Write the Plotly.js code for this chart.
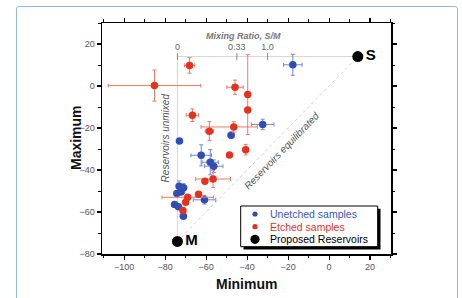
<!DOCTYPE html>
<html>
<head>
<meta charset="utf-8">
<script src="https://cdn.plot.ly/plotly-3.0.1.min.js"></script>
<style>
html,body{margin:0;padding:0;background:#ffffff;}
#wrap{position:relative;width:462px;height:298px;overflow:hidden;}
#frame{position:absolute;left:16px;top:6px;width:440px;height:310px;border:1.5px solid #8fbbe3;border-radius:3px;background:#ffffff;}
#chart{position:absolute;left:0;top:0;width:462px;height:298px;}
</style>
</head>
<body>
<div id="wrap"><div id="frame"></div><div id="chart"></div></div>
<script>
// Unetched samples (blue)
const unetchedMin = [-17.7, -32.4, -47.8, -73.0, -62.4, -58.0, -56.3, -73.2, -71.0, -72.2, -74.3, -60.8, -75.4, -73.5, -71.1];
const unetchedMax = [10.1, -18.3, -23.5, -26.2, -33.0, -36.3, -38.2, -47.7, -48.5, -50.5, -51.2, -54.2, -56.4, -57.5, -62.0];
const unetchedErrMin = [4.5, 5.5, 1.5, 1.5, 5, 4, 4.5, 1, 1.5, 1, 1, 5.5, 1, 1, 1.5];
const unetchedErrMax = [5, 2.5, 1.5, 1, 5, 6, 3, 2.5, 2, 1, 1, 2, 1, 1, 1];

// Etched samples (red)
const etchedMin = [-85.2, -68.1, -45.9, -39.7, -39.7, -66.7, -58.4, -46.5, -48.6, -40.7, -60.6, -56.6, -63.7, -69.0, -70.0, -71.3];
const etchedMax = [0.2, 9.8, -0.6, -4.1, -11.4, -13.9, -21.5, -19.5, -32.9, -30.3, -45.3, -44.3, -51.6, -53.0, -55.3, -59.3];
const etchedErrMinPlus = [22.6, 2.5, 4, 0, 0, 3, 2, 11.5, 1, 1, 1, 8.5, 1, 12.5, 1, 1];
const etchedErrMinMinus = [22.6, 2.5, 4, 0, 0, 3, 2, 16, 1, 1, 1, 8.5, 1, 12.5, 1, 1];
const etchedErrMax = [7.4, 3.7, 3.4, 19, 0, 3, 4.5, 2.5, 1, 2.5, 1, 4, 1, 1, 1, 1];

// Proposed reservoirs
const reservoirNames = ['M', 'S'];
const reservoirMin = [-74, 14];
const reservoirMax = [-74, 14];

// Mixing ratio scale (S/M)
const mixLabels = ['0', '0.33', '1.0'];
const mixPos = [-74, -45, -30];
const mixLevel = [14, 14, 14];

// Legend entries
const legendLabels = ['Unetched samples', 'Etched samples', 'Proposed Reservoirs'];
const legendColors = ['#3a55c0', '#e5321e', '#000000'];

const red = '#e5321e', blue = '#2f4db5';

const traces = [
  {x:[-74, 14], y:[14, 14], mode:'lines', line:{color:'#d4d4d4', width:1}, showlegend:false, hoverinfo:'skip'},
  {x:[-74, -74], y:[14, -74], mode:'lines', line:{color:'#d4d4d4', width:1}, showlegend:false, hoverinfo:'skip'},
  {x:[reservoirMin[0], reservoirMin[1]], y:[reservoirMax[0], reservoirMax[1]], mode:'lines', line:{color:'#cfcfcf', width:1, dash:'dot'}, showlegend:false, hoverinfo:'skip'},
  {x:mixPos, y:mixLevel, mode:'markers+text', text:mixLabels, textposition:'top center',
   textfont:{family:'Arial', size:9, color:'#666'},
   marker:{symbol:'line-ns-open', size:5, color:'#888', line:{width:1, color:'#888'}}, showlegend:false, hoverinfo:'skip'},
  {x:unetchedMin, y:unetchedMax, mode:'markers', name:legendLabels[0], showlegend:false,
   marker:{color:blue, size:7.5},
   error_x:{type:'data', array:unetchedErrMin, color:'#7287d6', thickness:1, width:2},
   error_y:{type:'data', array:unetchedErrMax, color:'#7287d6', thickness:1, width:2}},
  {x:etchedMin, y:etchedMax, mode:'markers', name:legendLabels[1], showlegend:false,
   marker:{color:red, size:7.5},
   error_x:{type:'data', array:etchedErrMinPlus, arrayminus:etchedErrMinMinus, color:'#ec7a66', thickness:1, width:2},
   error_y:{type:'data', array:etchedErrMax, color:'#ec7a66', thickness:1, width:2}},
  {x:reservoirMin, y:reservoirMax, mode:'markers+text', name:legendLabels[2], text:reservoirNames, showlegend:false,
   textposition:'middle right', textfont:{family:'Arial', size:15, color:'#000', weight:'bold'},
   marker:{color:'#000', size:11}}
];

// pixel -> paper helpers (plot area: left 102, top 23, width 289, height 231)
const L = 102, T = 23, W = 289, H = 231;
const px = v => (v - L) / W;
const py = v => (T + H - v) / H;

const shapes = [
  {type:'rect', xref:'paper', yref:'paper', x0:px(243.5), x1:px(380.5), y0:py(249.5), y1:py(208.8), fillcolor:'#000', line:{width:0}, layer:'above'},
  {type:'rect', xref:'paper', yref:'paper', x0:px(240.7), x1:px(377.7), y0:py(246.7), y1:py(206), fillcolor:'#fff', line:{width:1, color:'#000'}, layer:'above'}
];
const legendRows = [214, 226.7, 239.3];
const legendSizes = [2.6, 2.6, 4.6];
const annotations = [
  {x:-42, y:24, xref:'x', yref:'y', text:'<b><i>Mixing Ratio, S/M</i></b>', showarrow:false,
   font:{family:'Arial', size:9, color:'#777'}},
  {x:-79.7, y:-24.6, xref:'x', yref:'y', text:'<i>Reservoirs unmixed</i>', textangle:-90, showarrow:false,
   font:{family:'Arial', size:10, color:'#555'}},
  {x:-23.1, y:-30.6, xref:'x', yref:'y', text:'<i>Reservoirs equilibrated</i>', textangle:-46, showarrow:false,
   font:{family:'Arial', size:10, color:'#555'}},
  {x:px(76), y:py(138), xref:'paper', yref:'paper', xanchor:'center', yanchor:'middle', text:'<b>Maximum</b>', textangle:-90, showarrow:false,
   font:{family:'Arial', size:14, color:'#111'}},
  {x:px(246.7), y:py(284), xref:'paper', yref:'paper', xanchor:'center', yanchor:'middle', text:'<b>Minimum</b>', showarrow:false,
   font:{family:'Arial', size:14, color:'#111'}}
];
legendLabels.forEach((lab, i) => {
  shapes.push({type:'circle', xref:'paper', yref:'paper', xsizemode:'pixel', ysizemode:'pixel',
    xanchor:px(255), yanchor:py(legendRows[i]),
    x0:-legendSizes[i], x1:legendSizes[i], y0:-legendSizes[i], y1:legendSizes[i],
    fillcolor:i === 0 ? blue : (i === 1 ? red : '#000'), line:{width:0}, layer:'above'});
  annotations.push({x:px(268), y:py(legendRows[i]), xref:'paper', yref:'paper', xanchor:'left', yanchor:'middle',
    text:lab, showarrow:false, font:{family:'Arial', size:10.5, color:legendColors[i]}});
});

const axisCommon = {
  showline:true, linecolor:'#000', linewidth:1.5, mirror:'ticks',
  ticks:'outside', ticklen:4, tickwidth:1.2, tickcolor:'#000',
  showgrid:false, zeroline:false,
  tickfont:{family:'Arial', size:9, color:'#555'},
  minor:{ticks:'outside', ticklen:2.5, tickwidth:1, tickcolor:'#000', dtick:10, showgrid:false}
};

const layout = {
  width:462, height:298,
  margin:{l:L, r:462 - L - W, t:T, b:298 - T - H},
  paper_bgcolor:'rgba(0,0,0,0)', plot_bgcolor:'#fff',
  showlegend:false,
  xaxis:Object.assign({}, axisCommon, {range:[-110.8, 30.2], dtick:20, tick0:0}),
  yaxis:Object.assign({}, axisCommon, {range:[-80, 30], dtick:20, tick0:0}),
  annotations:annotations,
  shapes:shapes
};

Plotly.newPlot('chart', traces, layout, {displayModeBar:false, staticPlot:true});
</script>
</body>
</html>
